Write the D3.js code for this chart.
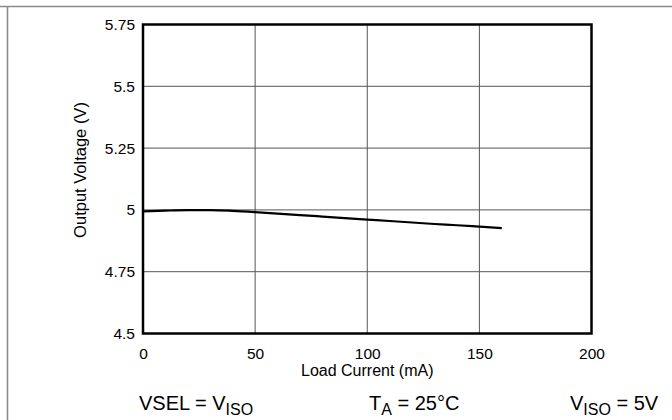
<!DOCTYPE html>
<html>
<head>
<meta charset="utf-8">
<script src="https://cdn.jsdelivr.net/npm/d3@7/dist/d3.min.js"></script>
<style>
  html, body { margin: 0; padding: 0; background: #fff; }
  svg { display: block; font-family: "Liberation Sans", Arial, Helvetica, sans-serif; }
</style>
</head>
<body>
<svg id="chart" width="672" height="420"></svg>
<script>
// Load current (mA) and measured output voltage (V)
const loadCurrent = [0, 10, 20, 30, 40, 50, 60, 70, 80, 90, 100, 110, 120, 130, 140, 150, 160];
const outputVoltage = [4.994, 4.997, 4.999, 4.999, 4.996, 4.991, 4.985, 4.979, 4.973, 4.967, 4.961, 4.955, 4.949, 4.943, 4.938, 4.932, 4.926];

const xTicks = [0, 50, 100, 150, 200];
const yTicks = [4.5, 4.75, 5, 5.25, 5.5, 5.75];
const yTickLabels = ["4.5", "4.75", "5", "5.25", "5.5", "5.75"];

const xTitle = "Load Current (mA)";
const yTitle = "Output Voltage (V)";

const svg = d3.select("#chart");
const W = 672, H = 420;
const plot = { left: 143, right: 591.5, top: 24.5, bottom: 333.5 };

const x = d3.scaleLinear().domain([0, 200]).range([plot.left, plot.right]);
const y = d3.scaleLinear().domain([4.5, 5.75]).range([plot.bottom, plot.top]);

// page frame lines
svg.append("line").attr("x1", 0).attr("x2", W).attr("y1", 6.5).attr("y2", 6.5)
  .attr("stroke", "#8a8a8a").attr("stroke-width", 1.6);
svg.append("line").attr("x1", 7.5).attr("x2", 7.5).attr("y1", 6).attr("y2", H)
  .attr("stroke", "#8a8a8a").attr("stroke-width", 1.6);

// grid
const grid = svg.append("g").attr("stroke", "#555").attr("stroke-width", 1);
grid.selectAll(".gx").data(xTicks.slice(1, -1)).join("line")
  .attr("x1", d => x(d)).attr("x2", d => x(d))
  .attr("y1", plot.top).attr("y2", plot.bottom);
grid.selectAll(".gy").data(yTicks.slice(1, -1)).join("line")
  .attr("x1", plot.left).attr("x2", plot.right)
  .attr("y1", d => y(d)).attr("y2", d => y(d));

// axes (labels only)
const xAxis = d3.axisBottom(x).tickValues(xTicks).tickSize(0).tickPadding(14)
  .tickFormat(d3.format("d"));
const yAxis = d3.axisLeft(y).tickValues(yTicks).tickSize(0).tickPadding(8)
  .tickFormat((d, i) => yTickLabels[i]);

const gx = svg.append("g").attr("transform", `translate(0,${plot.bottom})`).call(xAxis);
const gy = svg.append("g").attr("transform", `translate(${plot.left},0)`).call(yAxis);
[gx, gy].forEach(g => {
  g.select(".domain").remove();
  g.selectAll("text").attr("font-size", 15.5).attr("fill", "#000")
    .attr("font-family", "Liberation Sans, Arial, sans-serif");
});

// data curve
const line = d3.line().x((d, i) => x(loadCurrent[i])).y(d => y(d)).curve(d3.curveMonotoneX);
svg.append("path").datum(outputVoltage)
  .attr("d", line).attr("fill", "none").attr("stroke", "#000").attr("stroke-width", 2.2);

// plot frame
svg.append("rect")
  .attr("x", plot.left).attr("y", plot.top)
  .attr("width", plot.right - plot.left).attr("height", plot.bottom - plot.top)
  .attr("fill", "none").attr("stroke", "#000").attr("stroke-width", 2.5);

// axis titles
svg.append("text").attr("x", (plot.left + plot.right) / 2).attr("y", 376)
  .attr("text-anchor", "middle").attr("font-size", 16).text(xTitle);
svg.append("text")
  .attr("transform", "translate(86,170) rotate(-90)")
  .attr("text-anchor", "middle").attr("font-size", 16.5).text(yTitle);

// condition notes with subscripts
function note(xPos, parts) {
  const t = svg.append("text").attr("x", xPos).attr("y", 410).attr("font-size", 20);
  parts.forEach(p => {
    const s = t.append("tspan").text(p.text);
    if (p.sub) s.attr("font-size", 16).attr("dy", 5);
    else if (p.after) s.attr("dy", -5);
  });
}
note(139, [{ text: "VSEL = V" }, { text: "ISO", sub: true }]);
note(369, [{ text: "T" }, { text: "A", sub: true }, { text: " = 25°C", after: true }]);
note(570, [{ text: "V" }, { text: "ISO", sub: true }, { text: " = 5V", after: true }]);
</script>
</body>
</html>
